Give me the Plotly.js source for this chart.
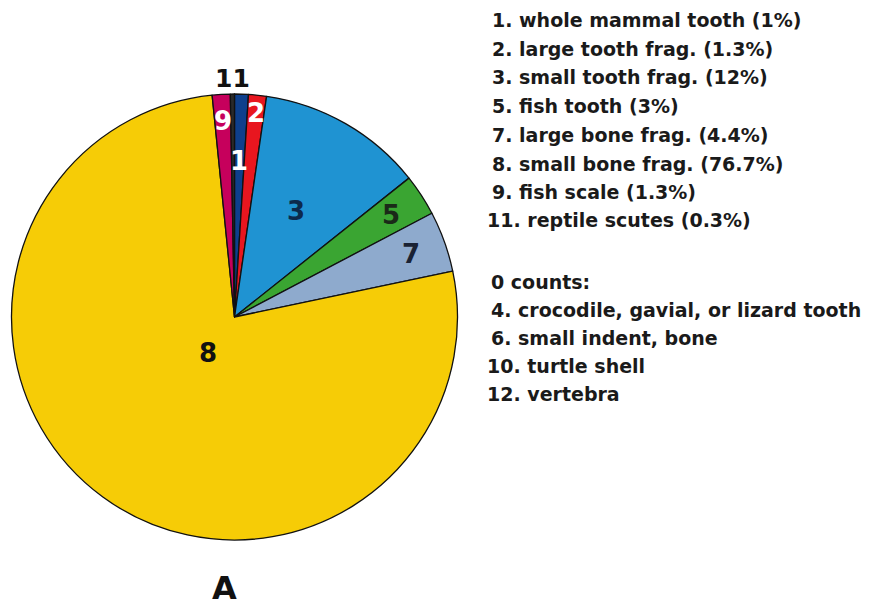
<!DOCTYPE html>
<html><head><meta charset="utf-8">
<script src="https://cdn.plot.ly/plotly-3.0.1.min.js"></script>
<style>html,body{margin:0;padding:0;background:#fff}#chart{width:871px;height:610px}</style>
</head><body><div id="chart"></div>
<script>
// ---- data ----
const sliceLabels = ["1", "2", "3", "5", "7", "8", "9", "11"];
const sliceValues = [1, 1.3, 12, 3, 4.4, 76.7, 1.3, 0.3];
const legendLines = [
  "1. whole mammal tooth (1%)",
  "2. large tooth frag. (1.3%)",
  "3. small tooth frag. (12%)",
  "5. fish tooth (3%)",
  "7. large bone frag. (4.4%)",
  "8. small bone frag. (76.7%)",
  "9. fish scale (1.3%)",
  "11. reptile scutes (0.3%)"
];
const zeroCountLines = [
  "0 counts:",
  "4. crocodile, gavial, or lizard tooth",
  "6. small indent, bone",
  "10. turtle shell",
  "12. vertebra"
];
const panelLabel = "A";

// ---- styles ----
const W = 871, H = 610;
const sliceColors = ["#0e3f8c", "#e8161f", "#1f93d2", "#3aa532", "#8eaacd", "#f6cc06", "#c6005c", "#2a2a2a"];
const textColors  = ["#ffffff", "#ffffff", "#0c2a4c", "#1a2a18", "#1a2233", "#111111", "#ffffff", "#111111"];
const textRadius  = [0.70, 0.92, 0.55, 0.84, 0.84, 0.20, 0.88, 1.07];
const textSizes   = [26, 26, 26, 26, 26, 26, 26, 25];
const cxPx = 234.5, cyPx = 317, R = 223;
const domX = [(cxPx - R) / W, (cxPx + R) / W];
const domY = [1 - (cyPx + R) / H, 1 - (cyPx - R) / H];
const font = "DejaVu Sans";

const total = sliceValues.reduce((a, b) => a + b, 0);
const annotations = [];
let cum = 0;
sliceValues.forEach((v, i) => {
  const mid = (cum + v / 2) / total * 2 * Math.PI; // clockwise from 12 o'clock
  cum += v;
  const r = textRadius[i] * R;
  annotations.push({
    xref: "paper", yref: "paper",
    x: (cxPx + r * Math.sin(mid)) / W,
    y: 1 - (cyPx - r * Math.cos(mid)) / H,
    text: "<b>" + sliceLabels[i] + "</b>",
    showarrow: false, xanchor: "center", yanchor: "middle",
    font: {family: font, size: textSizes[i], color: textColors[i]}
  });
});

const legendY = [20, 48.5, 77, 106, 135, 163.5, 192, 220.5];
legendLines.forEach((t, i) => {
  annotations.push({
    xref: "paper", yref: "paper",
    x: (/^\d\d/.test(t) ? 485 : 490) / W, y: 1 - legendY[i] / H,
    text: "<b>" + t + "</b>", showarrow: false,
    xanchor: "left", yanchor: "middle",
    font: {family: font, size: 19, color: "#1a1a1a"}
  });
});
const zeroY = [282, 309.5, 337.5, 366, 394];
zeroCountLines.forEach((t, i) => {
  annotations.push({
    xref: "paper", yref: "paper",
    x: (/^\d\d/.test(t) ? 485 : 489) / W, y: 1 - zeroY[i] / H,
    text: "<b>" + t + "</b>", showarrow: false,
    xanchor: "left", yanchor: "middle",
    font: {family: font, size: 19, color: "#1a1a1a"}
  });
});
annotations.push({
  xref: "paper", yref: "paper", x: 224 / W, y: 1 - 588 / H,
  text: "<b>" + panelLabel + "</b>", showarrow: false,
  xanchor: "center", yanchor: "middle",
  font: {family: font, size: 32, color: "#111111"}
});

const trace = {
  type: "pie",
  labels: sliceLabels,
  values: sliceValues,
  sort: false,
  direction: "clockwise",
  rotation: 0,
  textinfo: "none",
  hoverinfo: "label+percent",
  marker: {colors: sliceColors, line: {color: "#111111", width: 1.3}},
  domain: {x: domX, y: domY},
  showlegend: false
};

Plotly.newPlot("chart", [trace], {
  width: W, height: H,
  margin: {l: 0, r: 0, t: 0, b: 0},
  paper_bgcolor: "#ffffff",
  showlegend: false,
  annotations: annotations
}, {displayModeBar: false, staticPlot: true});
</script></body></html>
